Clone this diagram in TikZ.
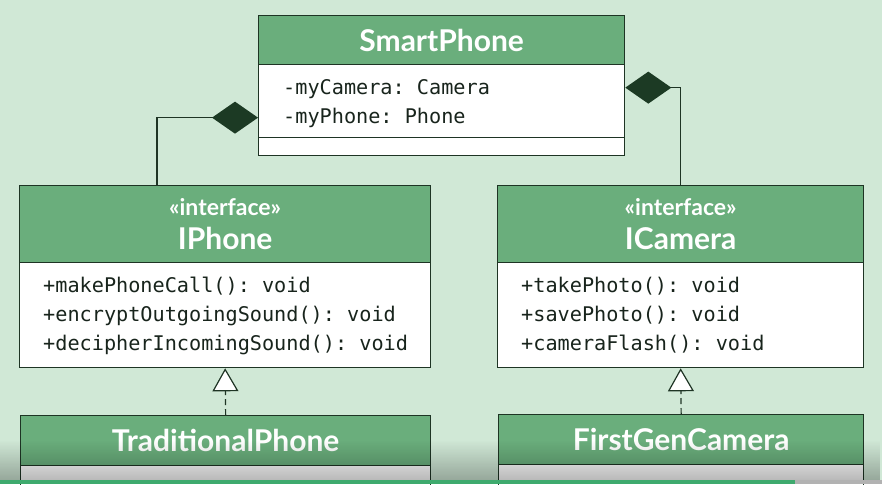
\documentclass[tikz,border=0pt]{standalone}
\usepackage{fontspec}
\setmainfont{Lato}
\setmonofont{DejaVu Sans Mono}
\usetikzlibrary{arrows.meta,fadings}
\definecolor{bg}{RGB}{208,232,214}
\definecolor{hdr}{RGB}{106,174,124}
\definecolor{bord}{RGB}{30,52,36}
\definecolor{dia}{RGB}{28,58,36}
\definecolor{txt}{RGB}{24,36,28}
\definecolor{barg}{RGB}{62,170,110}
\begin{document}
\begin{tikzpicture}[x=1pt,y=-1pt,
  hdrbox/.style={draw=bord, fill=hdr, line width=1.3pt, anchor=north west, inner sep=0pt, text=white, align=center},
  bodybox/.style={draw=bord, fill=white, line width=1.3pt, anchor=north west, inner sep=0pt},
  members/.style={anchor=west, inner sep=0pt, align=left, text=txt, font=\ttfamily\fontsize{20.2}{29}\selectfont},
  ttl/.style={font=\bfseries\fontsize{30}{34}\selectfont},
  ifc/.style={font=\bfseries\fontsize{30}{34}\selectfont},
  compo/.style={draw=bord, line width=1.3pt, -{Diamond[length=46pt,width=32pt,fill=dia,color=dia]}},
  realize/.style={draw=bord, line width=1.2pt, dash pattern=on 6pt off 4pt, -{Triangle[open,length=23pt,width=26pt,fill=white]}}
]
\clip (0,0) rectangle (882,484);
\fill[bg] (0,0) rectangle (882,484);
% SmartPhone
\node[hdrbox, ttl, minimum width=366pt, minimum height=49pt] (spH) at (258,15) {SmartPhone};
\node[bodybox, minimum width=366pt, minimum height=73pt] (spA) at (258,64) {};
\node[members] (spAt) at ([xshift=25pt,yshift=-2pt]spA.west) {-myCamera: Camera\\-myPhone: Phone};
\node[bodybox, minimum width=366pt, minimum height=18pt] (spO) at (258,137) {};
% IPhone
\node[hdrbox, ifc, minimum width=411pt, minimum height=77pt] (iphH) at (19,185) {{\fontsize{23}{26}\selectfont «interface»}\\IPhone};
\node[bodybox, minimum width=411pt, minimum height=105pt] (iphB) at (19,262) {};
\node[members] (iphT) at ([xshift=24pt,yshift=-0.5pt]iphB.west) {+makePhoneCall(): void\\+encryptOutgoingSound(): void\\+decipherIncomingSound(): void};
% ICamera
\node[hdrbox, ifc, minimum width=366pt, minimum height=77pt] (icH) at (497,185) {{\fontsize{23}{26}\selectfont «interface»}\\ICamera};
\node[bodybox, minimum width=366pt, minimum height=105pt] (icB) at (497,262) {};
\node[members] (icT) at ([xshift=24pt,yshift=-0.5pt]icB.west) {+takePhoto(): void\\+savePhoto(): void\\+cameraFlash(): void};
% bottom classes
\node[hdrbox, ttl, minimum width=410pt, minimum height=50pt] (trH) at (20,415) {TraditionalPhone};
\node[bodybox, minimum width=410pt, minimum height=26pt] (trB) at (20,465) {};
\node[hdrbox, ttl, minimum width=365pt, minimum height=50pt] (fgH) at (498,414) {FirstGenCamera};
\node[bodybox, minimum width=365pt, minimum height=27pt] (fgB) at (498,464) {};
% connectors
\draw[compo] ([xshift=138pt]iphH.north west) |- ([yshift=-16.5pt]spA.west);
\draw[compo] (icH.north) |- ([yshift=13.5pt]spA.east);
\draw[realize] (trH.north) -- (iphB.south);
\draw[realize] (fgH.north) -- (icB.south);
% video overlay
\fill[black, path fading=north, opacity=0.28] (0,440) rectangle (882,480);
\fill[barg] (0,480) rectangle (795,484);
\fill[gray!60] (795,480) rectangle (882,484);
\end{tikzpicture}
\end{document}
